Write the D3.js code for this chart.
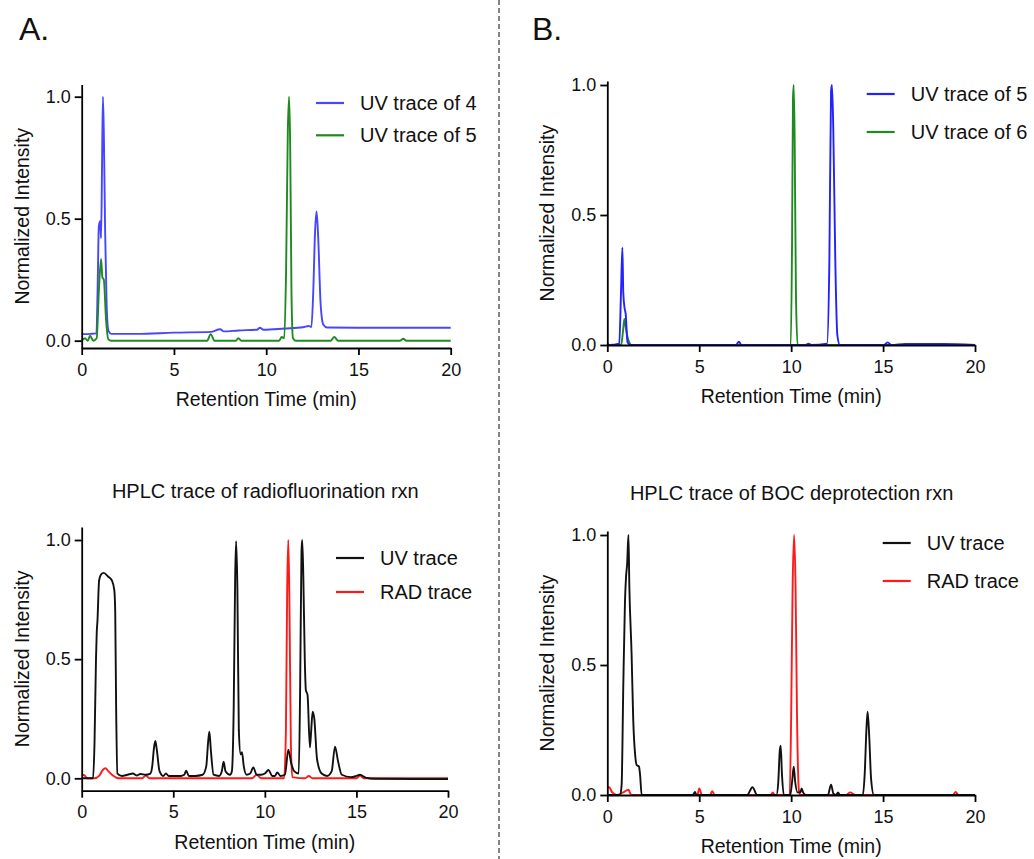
<!DOCTYPE html>
<html>
<head>
<meta charset="utf-8">
<script src="https://cdn.jsdelivr.net/npm/d3@7"></script>
<style>
    body { margin: 0; background: #fff; }
    svg { display: block; font-family: "Liberation Sans", Arial, sans-serif; }
    .axis path, .axis line { stroke: #000; stroke-width: 1.8; }
    .axis text { font-size: 18px; fill: #111; font-family: "Liberation Sans", Arial, sans-serif; }
    .axis-label { font-size: 19.5px; fill: #111; }
    .legend text { font-size: 20px; fill: #111; }
    .panel-title { font-size: 20px; fill: #111; }
    .panel-letter { font-size: 32px; fill: #111; }
</style>
</head>
<body>
<svg width="1034" height="859"></svg>
<script>
// ---- Data (time in min, normalized intensity) ----

// Panel A, top: UV trace of 4
var uv4Time  = [0, 0.5, 0.8, 0.86, 0.93, 1.0, 1.05, 1.1, 1.15, 1.2, 1.27, 1.35, 1.45, 1.6, 3, 5, 7, 7.5, 7.7, 8.5, 9.5, 9.66, 9.85, 11, 12, 12.3, 12.45, 12.55, 12.65, 12.73, 12.82, 12.95, 13.1, 13.3, 15, 17, 20];
var uv4Value = [0.027, 0.028, 0.03, 0.2, 0.47, 0.49, 0.42, 0.7, 1.0, 0.85, 0.45, 0.15, 0.04, 0.028, 0.028, 0.033, 0.036, 0.047, 0.038, 0.042, 0.045, 0.053, 0.045, 0.05, 0.055, 0.06, 0.056, 0.2, 0.45, 0.53, 0.42, 0.15, 0.065, 0.054, 0.053, 0.053, 0.053];

// Panel A, top: UV trace of 5
var uv5aTime  = [0, 0.18, 0.33, 0.45, 0.63, 0.81, 0.94, 1.05, 1.12, 1.2, 1.32, 1.45, 1.6, 6.8, 6.99, 7.2, 8.35, 8.49, 8.65, 10.7, 10.84, 10.98, 11.08, 11.17, 11.24, 11.3, 11.37, 11.45, 11.6, 13.5, 13.69, 13.9, 17.25, 17.43, 17.6, 20];
var uv5aValue = [0.0, 0.01, 0.0, 0.02, 0.0, 0.01, 0.22, 0.335, 0.26, 0.25, 0.085, 0.005, 0.0, 0.0, 0.027, 0.0, 0.0, 0.01, 0.0, 0.0, 0.015, 0.01, 0.3, 0.85, 1.0, 0.8, 0.2, 0.01, 0.0, 0.0, 0.015, 0.0, 0.0, 0.008, 0.0, 0.0];

// Panel B, top: UV trace of 5
var uv5bTime  = [0, 0.1, 0.65, 0.745, 0.82, 0.87, 0.945, 1.0, 1.1, 1.25, 7.0, 7.16, 7.3, 10.8, 10.94, 11.1, 11.95, 12.08, 12.17, 12.22, 12.29, 12.4, 12.51, 12.65, 15.05, 15.25, 15.45, 16.2, 17.2, 18.3, 20];
var uv5bValue = [0.006, 0.0, 0.005, 0.2, 0.374, 0.2, 0.14, 0.12, 0.01, 0.0, 0.0, 0.013, 0.0, 0.0, 0.005, 0.0, 0.005, 0.33, 0.975, 1.0, 0.84, 0.33, 0.04, 0.0, 0.0, 0.01, 0.0, 0.004, 0.004, 0.004, 0.0];

// Panel B, top: UV trace of 6
var uv6Time  = [0, 0.75, 0.85, 0.93, 1.0, 1.1, 1.2, 1.3, 9.98, 10.05, 10.1, 10.14, 10.19, 10.26, 10.35, 20];
var uv6Value = [0.0, 0.0, 0.05, 0.1, 0.07, 0.03, 0.01, 0.0, 0.0, 0.4, 0.95, 1.0, 0.8, 0.2, 0.0, 0.0];

// Panel A, bottom: radiofluorination rxn, UV trace
var rxnAUvTime  = [0, 0.62, 0.7, 0.78, 0.82, 0.86, 0.95, 1.05, 1.2, 1.45, 1.65, 1.78, 1.83, 1.88, 1.95, 2.2, 2.5, 2.8, 3.0, 3.2, 3.5, 3.75, 3.85, 3.95, 4.02, 4.1, 4.25, 4.45, 4.6, 4.75, 5.0, 5.4, 5.6, 5.7, 5.85, 6.2, 6.6, 6.8, 6.9, 6.97, 7.05, 7.2, 7.5, 7.65, 7.75, 7.85, 8.1, 8.2, 8.3, 8.38, 8.43, 8.5, 8.58, 8.68, 8.75, 8.85, 9.0, 9.2, 9.37, 9.55, 9.8, 10.0, 10.2, 10.4, 10.55, 10.68, 10.85, 11.1, 11.28, 11.45, 11.6, 11.85, 11.93, 12.0, 12.04, 12.1, 12.18, 12.24, 12.33, 12.46, 12.53, 12.61, 12.7, 12.85, 13.1, 13.4, 13.65, 13.83, 14.0, 14.2, 14.7, 15.0, 15.2, 15.5, 16, 18, 20];
var rxnAUvValue = [0.0, 0.0, 0.15, 0.5, 0.61, 0.66, 0.83, 0.855, 0.862, 0.846, 0.83, 0.79, 0.7, 0.3, 0.02, 0.01, 0.015, 0.02, 0.012, 0.018, 0.015, 0.02, 0.05, 0.13, 0.157, 0.12, 0.03, 0.01, 0.02, 0.01, 0.01, 0.01, 0.015, 0.032, 0.01, 0.01, 0.015, 0.05, 0.15, 0.196, 0.12, 0.015, 0.01, 0.03, 0.07, 0.03, 0.015, 0.03, 0.3, 0.85, 0.995, 0.8, 0.2, 0.1, 0.11, 0.05, 0.015, 0.02, 0.046, 0.015, 0.015, 0.02, 0.035, 0.01, 0.01, 0.025, 0.01, 0.015, 0.12, 0.06, 0.03, 0.02, 0.4, 0.95, 1.0, 0.85, 0.5, 0.37, 0.35, 0.13, 0.2, 0.28, 0.25, 0.08, 0.02, 0.01, 0.03, 0.133, 0.07, 0.015, 0.005, 0.01, 0.015, 0.003, -0.002, -0.003, -0.003];

// Panel A, bottom: radiofluorination rxn, RAD trace
var rxnARadTime  = [0, 0.15, 0.3, 0.7, 0.95, 1.15, 1.3, 1.45, 1.7, 2.0, 3.3, 3.5, 3.7, 9.3, 9.55, 9.8, 11.05, 11.15, 11.22, 11.28, 11.34, 11.42, 11.5, 12.2, 12.4, 12.6, 15.0, 15.2, 15.4, 16, 20];
var rxnARadValue = [0.015, 0.012, 0.0, 0.0, 0.01, 0.035, 0.042, 0.03, 0.012, 0.0, 0.0, 0.012, 0.0, 0.0, 0.015, 0.0, 0.0, 0.2, 0.8, 1.0, 0.75, 0.15, 0.005, 0.0, 0.01, 0.0, 0.0, 0.012, 0.0, 0.0, 0.0];

// Panel B, bottom: BOC deprotection rxn, UV trace
var rxnBUvTime  = [0, 0.7, 0.78, 0.87, 0.96, 1.02, 1.08, 1.15, 1.2, 1.32, 1.41, 1.52, 1.6, 1.72, 1.78, 1.87, 2.0, 4.65, 4.77, 4.85, 7.6, 7.9, 8.15, 9.2, 9.3, 9.38, 9.43, 9.5, 9.6, 9.95, 10.05, 10.14, 10.22, 10.35, 10.5, 10.57, 10.65, 10.8, 12.0, 12.17, 12.3, 12.45, 12.55, 12.65, 13.9, 14.0, 14.1, 14.16, 14.25, 14.35, 14.5, 20];
var rxnBUvValue = [0.0, 0.0, 0.04, 0.42, 0.74, 0.84, 0.89, 1.0, 0.8, 0.545, 0.29, 0.15, 0.115, 0.11, 0.08, 0.0, 0.0, 0.0, 0.012, 0.0, 0.0, 0.03, 0.0, 0.0, 0.05, 0.17, 0.19, 0.08, 0.0, 0.0, 0.05, 0.109, 0.05, 0.01, 0.01, 0.025, 0.01, 0.0, 0.0, 0.04, 0.005, 0.0, 0.01, 0.0, 0.0, 0.08, 0.26, 0.32, 0.22, 0.06, 0.0, 0.0];

// Panel B, bottom: BOC deprotection rxn, RAD trace
var rxnBRadTime  = [0, 0.1, 0.25, 0.5, 0.87, 1.15, 1.3, 4.9, 5.0, 5.15, 5.6, 5.7, 5.85, 8.9, 9.0, 9.1, 9.92, 10.0, 10.08, 10.16, 10.24, 10.32, 10.42, 10.5, 13.0, 13.2, 13.5, 18.8, 18.95, 19.1, 20];
var rxnBRadValue = [0.03, 0.03, 0.012, 0.0, 0.01, 0.02, 0.0, 0.0, 0.025, 0.0, 0.0, 0.015, 0.0, 0.0, 0.01, 0.0, 0.0, 0.3, 0.8, 1.0, 0.8, 0.3, 0.02, 0.0, 0.0, 0.01, 0.0, 0.0, 0.012, 0.0, 0.0];

// Axis ticks shared by all four panels
var xTicks = [0, 5, 10, 15, 20];
var yTicks = [0, 0.5, 1.0];

var svg = d3.select('svg');

// zip time/value arrays into points for d3.line
function toPoints(times, values) {
    return times.map(function(t, i) { return {t: t, v: values[i]}; });
}

// Layout for each panel (pixel boxes), series listed in drawing order
var panels = [
    {
        x0: 81.7, x1: 450.7, yDomain: [-0.03, 1.05], yRange: [348, 84.5],
        legend: {x: 316, y: 103, gap: 32.3},
        series: [
            {label: 'UV trace of 4', color: '#4646ff', pts: toPoints(uv4Time, uv4Value), order: 0},
            {label: 'UV trace of 5', color: '#1f8a1f', pts: toPoints(uv5aTime, uv5aValue), order: 1}
        ]
    },
    {
        x0: 607.3, x1: 975, yDomain: [0, 1.015], yRange: [345, 81.1],
        legend: {x: 866.7, y: 94, gap: 38},
        series: [
            {label: 'UV trace of 6', color: '#1f8a1f', pts: toPoints(uv6Time, uv6Value), order: 1},
            {label: 'UV trace of 5', color: '#2222ff', pts: toPoints(uv5bTime, uv5bValue), order: 0}
        ]
    },
    {
        x0: 81.7, x1: 448, yDomain: [-0.052, 1.055], yRange: [790.7, 526.9],
        title: 'HPLC trace of radiofluorination rxn', titleY: 498,
        legend: {x: 336, y: 558, gap: 34},
        series: [
            {label: 'RAD trace', color: '#ff1a1a', pts: toPoints(rxnARadTime, rxnARadValue), order: 1},
            {label: 'UV trace', color: '#111111', pts: toPoints(rxnAUvTime, rxnAUvValue), order: 0}
        ]
    },
    {
        x0: 607.3, x1: 975, yDomain: [0, 1.015], yRange: [795, 531.1],
        title: 'HPLC trace of BOC deprotection rxn', titleY: 500,
        legend: {x: 882.7, y: 543, gap: 38},
        series: [
            {label: 'RAD trace', color: '#ff1a1a', pts: toPoints(rxnBRadTime, rxnBRadValue), order: 1},
            {label: 'UV trace', color: '#111111', pts: toPoints(rxnBUvTime, rxnBUvValue), order: 0}
        ]
    }
];

panels.forEach(function(p) {
    var xScale = d3.scaleLinear().domain([0, 20]).range([p.x0, p.x1]);
    var yScale = d3.scaleLinear().domain(p.yDomain).range(p.yRange);
    var yBottom = p.yRange[0];

    var g = svg.append('g');

    // traces
    var line = d3.line()
        .x(function(d) { return xScale(d.t); })
        .y(function(d) { return yScale(d.v); })
        .curve(d3.curveMonotoneX);

    g.selectAll('.trace').data(p.series).enter().append('path')
        .attr('class', 'trace')
        .attr('d', function(s) { return line(s.pts); })
        .attr('fill', 'none')
        .attr('stroke', function(s) { return s.color; })
        .attr('stroke-width', 1.9)
        .attr('stroke-linejoin', 'round');

    // axes
    g.append('g')
        .attr('class', 'axis')
        .attr('transform', 'translate(0,' + yBottom + ')')
        .call(d3.axisBottom(xScale).tickValues(xTicks).tickSize(7).tickSizeOuter(0).tickPadding(8));

    g.append('g')
        .attr('class', 'axis')
        .attr('transform', 'translate(' + p.x0 + ',0)')
        .call(d3.axisLeft(yScale).tickValues(yTicks).tickFormat(d3.format('.1f'))
            .tickSize(7).tickSizeOuter(0).tickPadding(4));

    // axis titles
    g.append('text')
        .attr('class', 'axis-label')
        .attr('x', (p.x0 + p.x1) / 2)
        .attr('y', yBottom + 58)
        .attr('text-anchor', 'middle')
        .text('Retention Time (min)');

    g.append('text')
        .attr('class', 'axis-label')
        .attr('transform', 'translate(' + (p.x0 - 53) + ',' + (p.yRange[0] + p.yRange[1]) / 2 + ') rotate(-90)')
        .attr('text-anchor', 'middle')
        .text('Normalized Intensity');

    if (p.title) {
        g.append('text')
            .attr('class', 'panel-title')
            .attr('x', (p.x0 + p.x1) / 2 + 0.5)
            .attr('y', p.titleY)
            .attr('text-anchor', 'middle')
            .text(p.title);
    }

    // legend, UV entry first
    var entries = p.series.slice().sort(function(a, b) { return a.order - b.order; });
    var leg = g.append('g').attr('class', 'legend');
    var items = leg.selectAll('g').data(entries).enter().append('g')
        .attr('transform', function(d, i) { return 'translate(' + p.legend.x + ',' + (p.legend.y + i * p.legend.gap) + ')'; });
    items.append('line')
        .attr('x1', 0).attr('x2', 28)
        .attr('stroke', function(d) { return d.color; })
        .attr('stroke-width', 2.2);
    items.append('text')
        .attr('x', 44)
        .attr('y', 7)
        .text(function(d) { return d.label; });
});

// panel letters
svg.append('text').attr('class', 'panel-letter').attr('x', 19).attr('y', 40).text('A.');
svg.append('text').attr('class', 'panel-letter').attr('x', 532).attr('y', 40).text('B.');

// dashed divider between A and B
svg.append('line')
    .attr('x1', 499).attr('x2', 499)
    .attr('y1', 0).attr('y2', 859)
    .attr('stroke', '#333')
    .attr('stroke-width', 1.2)
    .attr('stroke-dasharray', '5,3');
</script>
</body>
</html>
